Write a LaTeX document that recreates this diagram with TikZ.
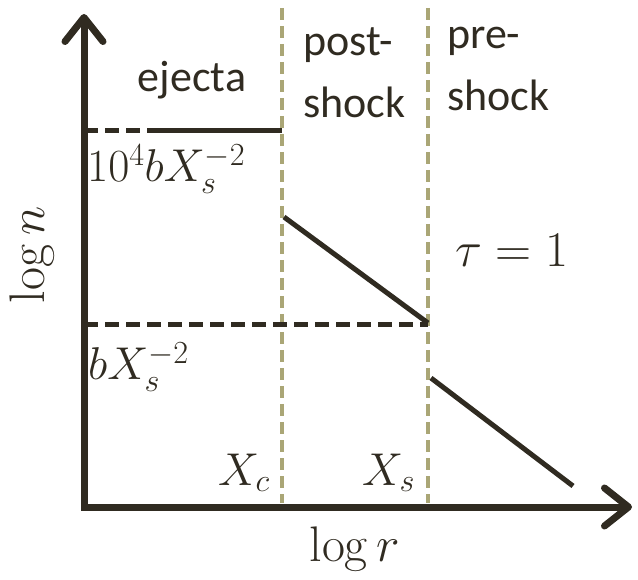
\RequirePackage{fix-cm}
\documentclass[tikz,border=0pt]{standalone}
\usepackage[no-math]{fontspec}
\setmainfont{Carlito}
\usetikzlibrary{arrows.meta}
\definecolor{ink}{RGB}{48,43,33}
\definecolor{shockcol}{RGB}{170,166,118}

\begin{document}
\begin{tikzpicture}[x=1pt, y=-1pt,
	   tip/.tip={Straight Barb[length=24pt,width=38pt,line cap=round,line join=round]},
	   ax/.style={draw=ink, line width=7pt, line join=miter},
	   front/.style={draw=shockcol, line width=4.5pt, dash pattern=on 12pt off 6pt},
	   lev/.style={draw=ink, line width=5pt, dash pattern=on 14pt off 7pt},
	   prof/.style={draw=ink, line width=5pt},
	   lbl/.style={font=\fontsize{44}{62}\selectfont, text=ink, inner sep=0pt},
	   m/.style={font=\fontsize{46}{52}\selectfont, text=ink, inner sep=0pt}]
	  \useasboundingbox (0,0) rectangle (638,580);
	  % axes
	  \coordinate (O) at (84,507);
	  \coordinate (ytip) at (84,14);
	  \coordinate (xtip) at (632,507);
	  % shock fronts
	  \coordinate (c1) at (282,8);   \coordinate (c2) at (282,503);
	  \coordinate (s1) at (428,8);   \coordinate (s2) at (428,503);
	  \draw[front] (c1) -- (c2);
	  \draw[front] (s1) -- (s2);
	  % density levels
	  \coordinate (h0) at (84,131);  \coordinate (h1) at (150,131);  \coordinate (h2) at (282,131);
	  \coordinate (l0) at (84,325);  \coordinate (l2) at (428,325);
	  \draw[lev] (h0) -- (h2);
	  \draw[prof] (h1) -- (h2);
	  \draw[lev] (l0) -- (l2);
	  % profiles
	  \coordinate (p1) at (284,217); \coordinate (p2) at (428,323);
	  \coordinate (q1) at (431,378); \coordinate (q2) at (573,486);
	  \draw[prof] (p1) -- (p2);
	  \draw[prof] (q1) -- (q2);
	  \draw[ax, tip-tip] (ytip) -- (O) -- (xtip);
	  % labels
	  \node[lbl, anchor=base] (ej) at (192,92) {ejecta};
	  \node[lbl, anchor=north west, align=left] (post) at (303,27) {post-\\shock};
	  \node[lbl, anchor=north west, align=left] (pre) at (447,27) {pre-\\shock};
	  \node[m, anchor=base west] (nhi) at (87,182) {$10^4bX_s^{-2}$};
	  \node[m, anchor=base west] (nlo) at (88,380) {$bX_s^{-2}$};
	  \node[m, anchor=base west] (xc) at (218,485) {$X_c$};
	  \node[m, anchor=base west] (xs) at (362,485) {$X_s$};
	  \node[m, font=\fontsize{50}{56}\selectfont] (tau) at (512,250) {$\tau=1$};
	  \node[m, font=\fontsize{50}{56}\selectfont, rotate=90] (yl) at (32,255) {$\log n$};
	  \node[m, font=\fontsize{50}{56}\selectfont, anchor=base] (xl) at (355,561) {$\log r$};
	\end{tikzpicture}
\end{document}
